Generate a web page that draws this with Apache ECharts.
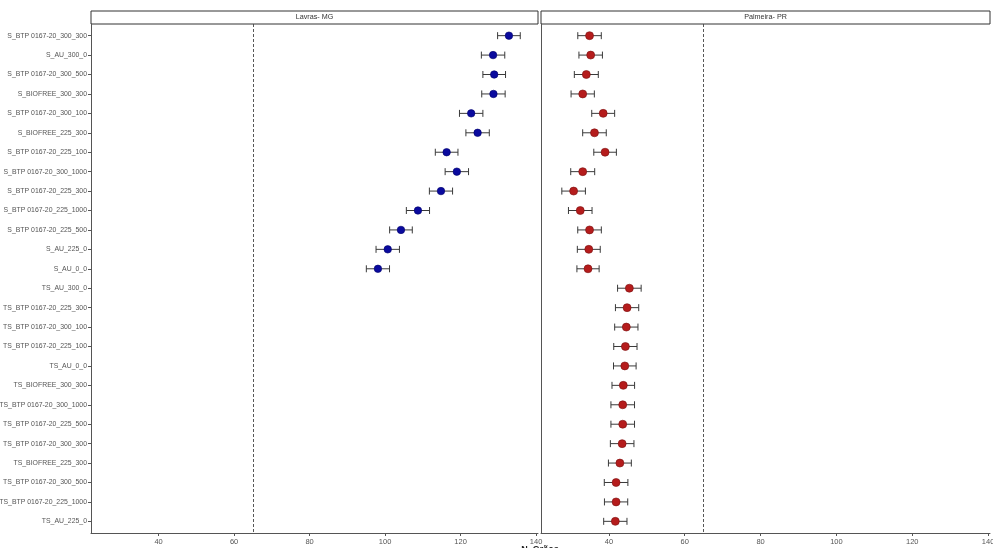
<!DOCTYPE html>
<html>
<head>
<meta charset="utf-8">
<script src="https://cdn.jsdelivr.net/npm/echarts@6/dist/echarts.min.js"></script>
<style>html,body{margin:0;padding:0;background:#fff}#c{width:993px;height:548px}</style>
</head>
<body>
<div id="c"></div>
<script>
const categories = [
  "S_BTP 0167-20_300_300","S_AU_300_0","S_BTP 0167-20_300_500","S_BIOFREE_300_300",
  "S_BTP 0167-20_300_100","S_BIOFREE_225_300","S_BTP 0167-20_225_100","S_BTP 0167-20_300_1000",
  "S_BTP 0167-20_225_300","S_BTP 0167-20_225_1000","S_BTP 0167-20_225_500","S_AU_225_0","S_AU_0_0",
  "TS_AU_300_0","TS_BTP 0167-20_225_300","TS_BTP 0167-20_300_100","TS_BTP 0167-20_225_100",
  "TS_AU_0_0","TS_BIOFREE_300_300","TS_BTP 0167-20_300_1000","TS_BTP 0167-20_225_500",
  "TS_BTP 0167-20_300_300","TS_BIOFREE_225_300","TS_BTP 0167-20_300_500","TS_BTP 0167-20_225_1000",
  "TS_AU_225_0"
];
const panels = ["Lavras- MG", "Palmeira- PR"];
// Lavras- MG: only S_ treatments (rows 0..12)
const lavrasMean = [132.8,128.6,128.9,128.7,122.8,124.5,116.3,119.0,114.8,108.7,104.2,100.7,98.1];
const lavrasErr  = [3.0,3.1,3.0,3.1,3.1,3.1,3.0,3.1,3.07,3.07,3.0,3.1,3.07];
// Palmeira- PR: all rows
const palmeiraMean = [34.9,35.2,34.05,33.1,38.5,36.2,39.0,33.1,30.7,32.45,34.9,34.7,34.5,
                      45.4,44.8,44.6,44.35,44.2,43.8,43.65,43.65,43.5,42.9,41.9,41.9,41.7];
const palmeiraErr  = [3.1,3.1,3.16,3.07,3.02,3.11,2.98,3.16,3.11,3.11,3.11,3.02,2.93,
                      3.11,3.07,3.07,3.07,2.98,2.98,3.11,3.11,3.11,3.02,3.11,3.07,3.07];
const xTicks = [40,60,80,100,120,140];
const refLine = 65;

const chart = echarts.init(document.getElementById('c'));
const FONT = '"Liberation Sans", Arial, sans-serif';

function pts(means){ return means.map((m,i)=>[m,i]); }
function errs(means, e){ return means.map((m,i)=>[m-e[i], m+e[i], i]); }

function errRender(params, api){
  const lo = api.coord([api.value(0), api.value(2)]);
  const hi = api.coord([api.value(1), api.value(2)]);
  const h = 3.5;
  const style = {stroke:'#3a3a3a', lineWidth:1, fill:null};
  return {type:'group', children:[
    {type:'line', shape:{x1:lo[0],y1:lo[1],x2:hi[0],y2:hi[1]}, style},
    {type:'line', shape:{x1:lo[0],y1:lo[1]-h,x2:lo[0],y2:lo[1]+h}, style},
    {type:'line', shape:{x1:hi[0],y1:hi[1]-h,x2:hi[0],y2:hi[1]+h}, style}
  ]};
}

const rows = categories.map((_,i)=>i);
const axisLineStyle = {color:'#555', width:1};

function xAxis(gi){
  return {type:'value', gridIndex:gi, min:22.1, max:140.5,
    axisLine:{show:true, onZero:false, lineStyle:axisLineStyle},
    splitLine:{show:false},
    axisTick:{show:true, length:3, lineStyle:{color:'#555'}, customValues:xTicks},
    axisLabel:{fontSize:7.5, color:'#555', fontFamily:FONT, margin:5, customValues:xTicks}};
}
function yAxis(gi, showLabels){
  return {type:'value', gridIndex:gi, inverse:true, min:-0.6, max:25.6,
    axisLine:{show:true, onZero:false, lineStyle:axisLineStyle},
    splitLine:{show:false},
    axisTick:{show:showLabels, length:3, lineStyle:{color:'#555'}, customValues:rows},
    axisLabel:{show:showLabels, fontSize:6.9, color:'#555', fontFamily:FONT, margin:4,
      customValues:rows, formatter:(v)=>categories[Math.round(v)]}};
}
const mline = {silent:true, symbol:'none', label:{show:false},
  lineStyle:{type:[3,2], color:'#444', width:0.9}, data:[{xAxis:refLine}]};

chart.setOption({
  animation:false,
  backgroundColor:'#fff',
  grid:[
    {left:91, top:24, width:447, height:509, containLabel:false, outerBoundsMode:'none'},
    {left:541, top:24, width:449, height:509, containLabel:false, outerBoundsMode:'none'}
  ],
  xAxis:[xAxis(0), xAxis(1)],
  yAxis:[yAxis(0,true), yAxis(1,false)],
  graphic:[
    {type:'rect', shape:{x:91,y:11,width:447,height:13}, style:{fill:'#fff', stroke:'#333', lineWidth:1}},
    {type:'text', x:314.5, y:17.5, style:{text:panels[0], fontSize:7.2, fill:'#333', fontFamily:FONT, align:'center', verticalAlign:'middle'}},
    {type:'rect', shape:{x:541,y:11,width:449,height:13}, style:{fill:'#fff', stroke:'#333', lineWidth:1}},
    {type:'text', x:765.5, y:17.5, style:{text:panels[1], fontSize:7.2, fill:'#333', fontFamily:FONT, align:'center', verticalAlign:'middle'}},
    {type:'text', x:540, y:545, style:{text:'N_Grãos', fontSize:9, fontWeight:'bold', fill:'#222', fontFamily:FONT, align:'center', verticalAlign:'top'}}
  ],
  series:[
    {type:'custom', xAxisIndex:0, yAxisIndex:0, renderItem:errRender, data:errs(lavrasMean, lavrasErr), z:2},
    {type:'scatter', xAxisIndex:0, yAxisIndex:0, data:pts(lavrasMean), symbolSize:7.5,
      itemStyle:{color:'#0a0a9e', borderColor:'#00006a', borderWidth:0.6, opacity:1}, z:3, markLine:mline},
    {type:'custom', xAxisIndex:1, yAxisIndex:1, renderItem:errRender, data:errs(palmeiraMean, palmeiraErr), z:2},
    {type:'scatter', xAxisIndex:1, yAxisIndex:1, data:pts(palmeiraMean), symbolSize:8,
      itemStyle:{color:'#b51c1c', borderColor:'#7a1010', borderWidth:0.6, opacity:1}, z:3, markLine:mline}
  ]
});
</script>
</body>
</html>
